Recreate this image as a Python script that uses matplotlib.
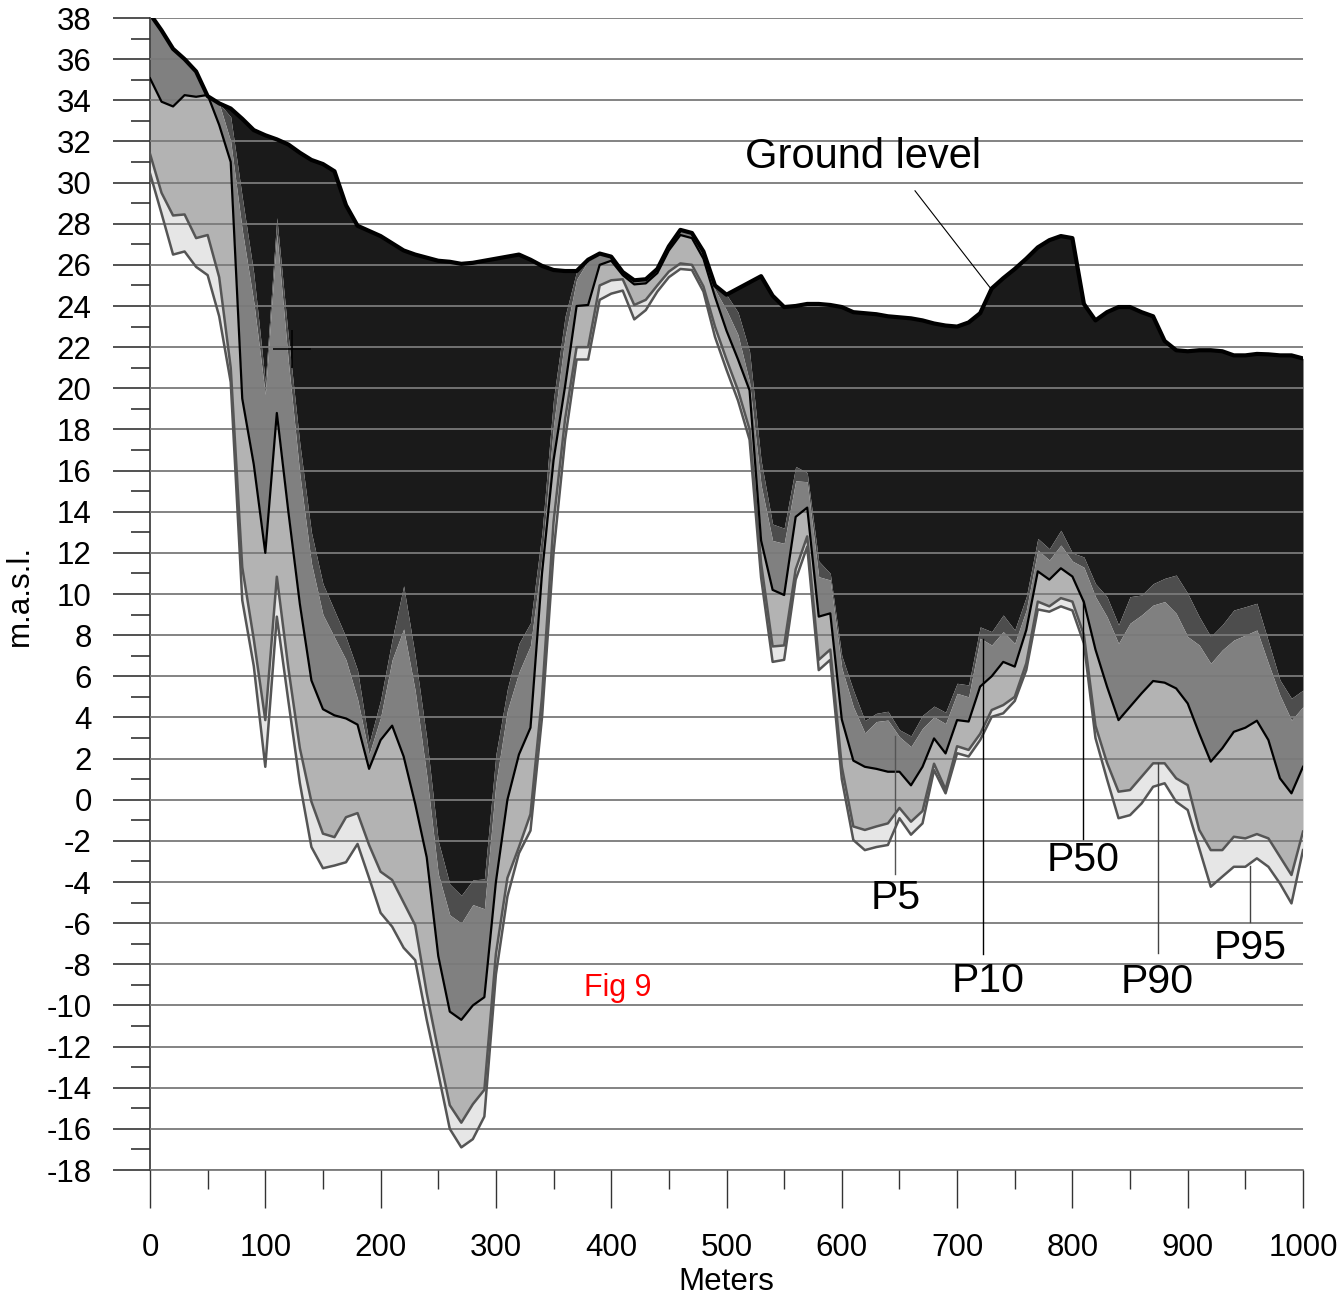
import numpy as np
import matplotlib
matplotlib.use("Agg")
import matplotlib.pyplot as plt
from matplotlib.ticker import MultipleLocator

plt.rcParams['font.family'] = ['Liberation Sans', 'DejaVu Sans']

# distance along profile (m)
distance = list(range(0, 1001, 10))

ground = [38.2, 37.4, 36.5, 36.0, 35.4, 34.2, 33.85, 33.6, 33.1, 32.55,
          32.3, 32.1, 31.85, 31.45, 31.1, 30.9, 30.55, 28.9, 27.9, 27.65,
          27.4, 27.05, 26.7, 26.5, 26.35, 26.2, 26.15, 26.05, 26.1, 26.2,
          26.3, 26.4, 26.5, 26.25, 25.95, 25.75, 25.7, 25.7, 26.25, 26.55,
          26.4, 25.65, 25.25, 25.3, 25.8, 26.9, 27.7, 27.55, 26.65, 25.0,
          24.55, 24.85, 25.15, 25.45, 24.5, 23.95, 24.0, 24.1, 24.1, 24.05,
          23.95, 23.7, 23.65, 23.6, 23.5, 23.45, 23.4, 23.3, 23.15, 23.05,
          23.0, 23.2, 23.65, 24.85, 25.35, 25.8, 26.3, 26.85, 27.2, 27.4,
          27.3, 24.1, 23.3, 23.7, 23.95, 23.95, 23.7, 23.5, 22.3, 21.85,
          21.8, 21.85, 21.85, 21.8, 21.6, 21.6, 21.67, 21.65, 21.6, 21.6,
          21.45]

p5 = [38.2, 37.4, 36.5, 36.0, 35.4, 34.2, 33.85, 33.2, 29.3, 25.6,
      20.3, 28.3, 22.5, 17.3, 13.0, 10.5, 9.2, 7.9, 6.3, 2.74,
      4.85, 7.8, 10.4, 7.0, 3.0, -2.0, -4.1, -4.65, -3.9, -3.85,
      2.2, 5.4, 7.6, 8.6, 13.0, 19.5, 23.5, 25.7, 26.25, 26.55,
      26.4, 25.65, 25.25, 25.3, 25.8, 26.9, 27.7, 27.55, 26.65, 25.0,
      24.55, 23.7, 21.8, 16.5, 13.4, 13.2, 16.2, 15.9, 11.6, 11.0,
      7.0, 5.33, 3.85, 4.2, 4.3, 3.4, 3.1, 4.1, 4.55, 4.25,
      5.66, 5.58, 8.4, 8.17, 8.98, 8.25, 9.87, 12.7, 12.2, 13.1,
      12.0, 11.8, 10.5, 9.87, 8.5, 9.87, 9.95, 10.5, 10.76, 10.92,
      10.03, 8.9, 7.93, 8.5, 9.22, 9.38, 9.55, 7.7, 5.82, 4.93,
      5.33]

p10 = [38.2, 37.4, 36.5, 36.0, 35.4, 34.2, 33.85, 32.0, 27.7, 24.2,
       19.7, 27.5, 21.3, 15.8, 11.5, 9.0, 7.9, 6.8, 4.9, 2.2,
       4.0, 6.8, 8.3, 5.3, 1.2, -3.6, -5.6, -6.0, -5.1, -5.3,
       0.8, 4.35, 6.2, 7.5, 11.8, 18.2, 22.5, 25.3, 26.2, 26.5,
       26.35, 25.6, 25.2, 25.25, 25.75, 26.85, 27.65, 27.5, 26.6, 24.8,
       23.8, 22.6, 20.3, 15.3, 12.6, 12.46, 15.5, 15.46, 10.84, 10.68,
       6.4, 4.52, 3.25, 3.8, 3.87, 3.06, 2.58, 3.47, 4.03, 3.7,
       5.17, 5.0, 7.85, 7.52, 8.17, 7.6, 9.22, 12.14, 11.65, 12.38,
       11.6, 11.3, 9.87, 8.9, 7.6, 8.58, 8.98, 9.46, 9.63, 9.06,
       7.93, 7.52, 6.63, 7.28, 7.76, 8.0, 8.25, 6.63, 5.08, 3.87,
       4.52]

p50 = [35.07, 33.93, 33.7, 34.25, 34.17, 34.26, 32.8, 31.0, 19.5, 16.3,
       12.0, 18.8, 14.0, 9.5, 5.8, 4.4, 4.1, 3.95, 3.65, 1.5,
       2.9, 3.6, 2.1, -0.2, -2.8, -7.6, -10.3, -10.7, -10.0, -9.6,
       -4.0, 0.0, 2.2, 3.5, 11.0, 16.5, 20.1, 24.0, 24.05, 26.0,
       26.2, 25.5, 25.05, 25.1, 25.6, 26.7, 27.45, 27.3, 26.3, 24.45,
       22.8, 21.4, 19.9, 12.6, 10.2, 9.95, 13.75, 14.2, 8.9, 9.06,
       3.9, 1.9, 1.6, 1.5, 1.36, 1.36, 0.7, 1.6, 2.98, 2.25,
       3.87, 3.8, 5.5, 6.0, 6.7, 6.47, 8.25, 11.1, 10.7, 11.25,
       10.85, 9.6, 7.3, 5.5, 3.87, 4.52, 5.17, 5.77, 5.69, 5.41,
       4.68, 3.22, 1.85, 2.5, 3.3, 3.5, 3.84, 2.9, 1.04, 0.31,
       1.6]

p90 = [31.4, 29.5, 28.4, 28.45, 27.3, 27.45, 25.4, 21.0, 11.3, 7.8,
       3.87, 10.84, 6.4, 2.5, -0.1, -1.65, -1.82, -0.85, -0.65, -2.2,
       -3.5, -3.9, -5.0, -6.1, -9.4, -12.2, -14.85, -15.7, -14.8, -14.1,
       -7.5, -3.8, -2.3, -0.7, 5.0, 13.5, 18.5, 22.0, 22.0, 25.0,
       25.25, 25.3, 24.05, 24.3, 25.0, 25.67, 26.07, 26.0, 24.95, 23.0,
       21.4, 19.9, 18.0, 11.5, 7.45, 7.5, 11.2, 12.8, 6.8, 7.3,
       1.6, -1.3, -1.47, -1.3, -1.15, -0.4, -1.07, -0.55, 1.75, 0.5,
       2.6, 2.42, 3.2, 4.36, 4.6, 5.0, 6.63, 9.63, 9.4, 9.8,
       9.63, 8.0, 3.6, 1.8, 0.39, 0.47, 1.12, 1.77, 1.77, 1.04,
       0.71, -1.47, -2.45, -2.45, -1.8, -1.88, -1.67, -1.88, -2.77, -3.66,
       -1.55]

p95 = [30.45, 28.5, 26.5, 26.65, 25.9, 25.5, 23.5, 20.3, 9.7, 6.5,
       1.6, 8.9, 4.8, 0.8, -2.3, -3.33, -3.2, -3.04, -2.15, -3.8,
       -5.5, -6.17, -7.2, -7.8, -10.7, -13.3, -16.0, -16.9, -16.5, -15.4,
       -8.5, -4.7, -2.6, -1.5, 4.0, 12.0, 17.5, 21.4, 21.4, 24.3,
       24.6, 24.75, 23.35, 23.8, 24.7, 25.4, 25.8, 25.75, 24.7, 22.5,
       20.9, 19.4, 17.5, 10.8, 6.7, 6.8, 10.7, 12.3, 6.3, 6.8,
       1.0, -1.96, -2.45, -2.3, -2.2, -0.9, -1.7, -1.15, 1.44, 0.31,
       2.26, 2.1, 2.9, 4.03, 4.2, 4.8, 6.3, 9.25, 9.14, 9.4,
       9.2, 7.6, 3.0, 1.0, -0.9, -0.75, -0.18, 0.63, 0.8, -0.1,
       -0.5, -2.36, -4.23, -3.74, -3.26, -3.26, -2.85, -3.26, -4.07, -5.04,
       -2.45]

band_colors = ['#1a1a1a', '#4d4d4d', '#808080', '#b3b3b3', '#e6e6e6']

x = np.array(distance, dtype=float)
series = [np.array(s, dtype=float) for s in (ground, p5, p10, p50, p90, p95)]

fig = plt.figure(figsize=(13.4, 13.0), dpi=100)
ax = fig.add_axes([150/1340, 130/1300, 1153/1340, 1152/1300])

for i, col in enumerate(band_colors):
    ax.fill_between(x, series[i], series[i+1], color=col, linewidth=0, zorder=2)

ax.plot(x, series[5], color='#555555', lw=1.8, zorder=4, solid_joinstyle='round')
ax.plot(x, series[4], color='#555555', lw=1.8, zorder=4, solid_joinstyle='round')
ax.plot(x, series[3], color='black', lw=1.6, zorder=5, solid_joinstyle='round')
ax.plot(x, series[0], color='black', lw=3.0, zorder=6, solid_joinstyle='round',
        solid_capstyle='round')

ax.set_xlim(0, 1000)
ax.set_ylim(-18, 38)
ax.yaxis.set_major_locator(MultipleLocator(2))
ax.yaxis.set_minor_locator(MultipleLocator(1))
ax.xaxis.set_major_locator(MultipleLocator(100))
ax.xaxis.set_minor_locator(MultipleLocator(50))
ax.grid(axis='y', which='major', color='#7a7a7a', lw=1.3, zorder=3)
ax.set_axisbelow(False)

for s in ['top', 'right']:
    ax.spines[s].set_visible(False)
ax.spines['left'].set_color('#333333')
ax.spines['left'].set_linewidth(1.2)
ax.spines['bottom'].set_color('#7a7a7a')
ax.spines['bottom'].set_linewidth(1.3)

ax.tick_params(axis='y', which='major', length=27, width=1.2, color='#333333',
               labelsize=22.5, pad=15, direction='out')
ax.tick_params(axis='y', which='minor', length=14, width=1.2, color='#333333',
               direction='out')
ax.tick_params(axis='x', which='major', length=27, width=1.0, color='#333333',
               labelsize=22.5, pad=18, direction='out')
ax.tick_params(axis='x', which='minor', length=14, width=1.0, color='#333333',
               direction='out')
ax.set_yticks(np.arange(-18, 39, 2))
ax.set_yticklabels([str(v) for v in range(-18, 39, 2)])

fig.text(726.5/1340, 1 - 1282/1300, 'Meters', ha='center', va='center', fontsize=22.5)
fig.text(20/1340, 1 - 595/1300, 'm.a.s.l.', ha='center', va='center', fontsize=22.5,
         rotation=90)

# crosshair marker
ax.plot([123], [21.9], marker='+', markersize=28, mew=1.1, color='black', zorder=7)

# annotations
ax.text(618.5, 31.25, 'Ground level', fontsize=30, ha='center', va='center', zorder=8)
ax.plot([663.5, 728.5], [29.6, 24.9], color='black', lw=0.8, zorder=8)

labels = [
    ('P5', 647, -4.8, 646, 3.1, -3.6, '#555555'),
    ('P10', 727, -8.8, 722.5, 7.8, -7.5, 'black'),
    ('P50', 809, -2.95, 809.2, 9.7, -1.9, 'black'),
    ('P90', 873.5, -8.85, 874.2, 1.8, -7.45, '#444444'),
    ('P95', 954, -7.2, 954, -3.2, -5.95, '#444444'),
]
for txt, tx, ty, lx, y0, y1, lc in labels:
    ax.plot([lx, lx], [y0, y1], color=lc, lw=1.0, zorder=8)
    ax.text(tx, ty, txt, fontsize=29.5, ha='center', va='center', zorder=8)

ax.text(406, -9.15, 'Fig 9', fontsize=22, color='red', ha='center', va='center', zorder=8)

fig.savefig('out.png', dpi=100)
